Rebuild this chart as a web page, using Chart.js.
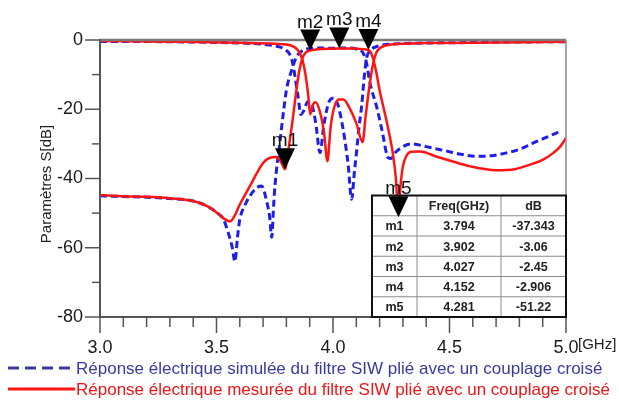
<!DOCTYPE html>
<html>
<head>
<meta charset="utf-8">
<script src="https://cdn.jsdelivr.net/npm/chart.js@4.4.0/dist/chart.umd.min.js"></script>
<style>
  html, body { margin: 0; padding: 0; background: #fff; }
  #wrap { width: 619px; height: 401px; position: relative; }
</style>
</head>
<body>
<div id="wrap"><canvas id="chart"></canvas></div>
<script>
// simulated response (blue dashed)
const simS21Freq = [3.0,3.1,3.2,3.3,3.4,3.46,3.5,3.53,3.55,3.568,3.579,3.59,3.6,3.62,3.644,3.67,3.694,3.715,3.728,3.737,3.745,3.751,3.773,3.787,3.8,3.823,3.844,3.873,3.9,3.95,4.0,4.05,4.1,4.13,4.144,4.159,4.187,4.21,4.237,4.25,4.266,4.3,4.338,4.4,4.488,4.55,4.616,4.68,4.745,4.8,4.86,4.92,4.974];
const simS21Db = [-45.0,-45.2,-45.4,-45.8,-46.5,-48,-49.8,-51.8,-55.6,-60,-64,-57,-51.8,-48,-45,-42.8,-42.2,-46.5,-51,-57,-48,-42,-29,-21,-14.5,-8.6,-4.8,-2.9,-2.5,-2.3,-2.4,-2.3,-2.6,-3.8,-6.7,-12.5,-19.2,-26,-34,-34.2,-32.6,-30.8,-30,-30.8,-32.1,-33,-33.6,-33.4,-32.6,-31.6,-29.7,-28,-26.4];
const simS11Freq = [3.0,3.3,3.5,3.65,3.72,3.77,3.795,3.815,3.828,3.838,3.85,3.862,3.874,3.892,3.908,3.926,3.944,3.962,3.982,4.0,4.02,4.044,4.065,4.08,4.092,4.1,4.112,4.123,4.135,4.145,4.16,4.187,4.25,4.5,4.75,5.0];
const simS11Db = [-0.4,-0.5,-0.7,-1.0,-1.4,-2.0,-2.8,-4.2,-7,-11,-16.3,-21.5,-20.5,-17.8,-18.5,-24,-32.5,-24,-18,-16.8,-18.5,-26,-36,-46,-38,-33,-25,-19,-10,-5,-3,-1.9,-1.2,-0.8,-0.6,-0.5];

// measured response (red solid)
const measS21Freq = [3.0,3.1,3.2,3.3,3.4,3.46,3.5,3.53,3.558,3.58,3.6,3.645,3.7,3.73,3.755,3.775,3.794,3.81,3.825,3.84,3.855,3.87,3.885,3.902,3.95,4.027,4.1,4.152,4.168,4.185,4.2,4.215,4.235,4.255,4.27,4.281,4.29,4.3,4.315,4.335,4.373,4.45,4.5,4.59,4.7,4.78,4.845,4.9,4.946,4.975,5.0];
const measS21Db = [-44.8,-45.1,-45.3,-45.7,-46.5,-48,-49.8,-51.5,-52.4,-50.5,-47.5,-42,-35.5,-34,-33.8,-35,-37.3,-31,-24,-16,-9,-5,-3.5,-3.06,-2.6,-2.45,-2.5,-2.9,-4.5,-9,-14.5,-19,-25,-32,-40,-51.2,-42,-36.5,-33.5,-32.3,-32.2,-33.8,-34.8,-36.5,-37.6,-37.3,-36,-34.6,-32.6,-30.8,-28.3];
const measS11Freq = [3.0,3.3,3.6,3.75,3.82,3.84,3.855,3.87,3.882,3.893,3.902,3.912,3.925,3.945,3.962,3.976,3.99,4.005,4.025,4.045,4.07,4.1,4.127,4.14,4.155,4.17,4.185,4.2,4.25,4.4,4.7,5.0];
const measS11Db = [-0.3,-0.5,-0.8,-1.1,-1.6,-2.3,-3.5,-6,-10,-15.5,-21.5,-19,-18,-21,-27,-35,-25,-19.5,-17.2,-17.2,-19.5,-24,-29.5,-22,-14,-7.5,-3.8,-2.4,-1.3,-0.9,-0.7,-0.5];

// markers
const markerNames = ['m1', 'm2', 'm3', 'm4', 'm5'];
const markerFreq = [3.794, 3.902, 4.027, 4.152, 4.281];
const markerDb = [-37.343, -3.06, -2.45, -2.906, -51.22];

const legendLabels = [
  'Réponse électrique simulée du filtre SIW plié avec un couplage croisé',
  'Réponse électrique mesurée du filtre SIW plié avec un couplage croisé'
];

const FONT = '"Liberation Sans", Arial, sans-serif';
const BLUE = '#1e1ee6';
const RED = '#ff1414';

const pts = (fs, ds) => fs.map((f, i) => ({ x: f, y: ds[i] }));

function line(ctx, x1, y1, x2, y2) {
  ctx.beginPath();
  ctx.moveTo(x1, y1);
  ctx.lineTo(x2, y2);
  ctx.stroke();
}

const isMult = (v, m) => Math.abs(v / m - Math.round(v / m)) < 1e-6;

const overlay = {
  id: 'overlay',
  afterDatasetsDraw(chart) {
    const { ctx, chartArea: a, scales: { x, y } } = chart;
    ctx.save();

    // frame
    ctx.strokeStyle = '#7a7a7a';
    ctx.lineWidth = 2.5;
    line(ctx, a.left, a.top, a.right, a.top);
    ctx.strokeStyle = '#8a8a8a';
    ctx.lineWidth = 1.5;
    line(ctx, a.right, a.top, a.right, a.bottom);
    ctx.strokeStyle = '#555';
    ctx.lineWidth = 2;
    line(ctx, a.left, a.top - 1, a.left, a.bottom + 1);
    line(ctx, a.left - 1, a.bottom, a.right, a.bottom);

    // ticks
    ctx.lineWidth = 1.5;
    y.ticks.forEach(t => {
      const py = y.getPixelForValue(t.value);
      const len = isMult(t.value, 20) ? 15 : 8;
      line(ctx, a.left - len, py, a.left, py);
    });
    x.ticks.forEach(t => {
      const px = x.getPixelForValue(t.value);
      const len = isMult(t.value, 0.5) ? 16 : 10;
      line(ctx, px, a.bottom, px, a.bottom + len);
    });

    // marker table
    const cols = [a.right - 194, a.right - 149, a.right - 65, a.right];
    const tTop = a.bottom - 121.5;
    const rowH = 121.5 / 6;
    ctx.fillStyle = '#fff';
    ctx.fillRect(cols[0], tTop, cols[3] - cols[0], a.bottom - tTop);
    ctx.strokeStyle = '#8c8c8c';
    ctx.lineWidth = 1;
    for (let r = 1; r < 6; r++) line(ctx, cols[0], tTop + r * rowH, cols[3], tTop + r * rowH);
    line(ctx, cols[1], tTop, cols[1], a.bottom);
    line(ctx, cols[2], tTop, cols[2], a.bottom);
    ctx.strokeStyle = '#111';
    ctx.lineWidth = 2;
    ctx.strokeRect(cols[0], tTop, cols[3] - cols[0], a.bottom - tTop);

    ctx.fillStyle = '#222';
    ctx.font = 'bold 12.5px ' + FONT;
    ctx.textAlign = 'center';
    ctx.textBaseline = 'middle';
    const cx = i => (cols[i] + cols[i + 1]) / 2;
    ctx.fillText('Freq(GHz)', cx(1), tTop + rowH / 2 + 1);
    ctx.fillText('dB', cx(2), tTop + rowH / 2 + 1);
    markerNames.forEach((m, i) => {
      const ry = tTop + (i + 1.5) * rowH + 1;
      ctx.fillText(m, cx(0), ry);
      ctx.fillText(String(markerFreq[i]), cx(1), ry);
      ctx.fillText(String(markerDb[i]), cx(2), ry);
    });

    // markers
    ctx.fillStyle = '#000';
    ctx.font = '19px ' + FONT;
    ctx.textBaseline = 'alphabetic';
    markerNames.forEach((m, i) => {
      const px = x.getPixelForValue(markerFreq[i]);
      const py = y.getPixelForValue(markerDb[i]);
      ctx.beginPath();
      ctx.moveTo(px, py);
      ctx.lineTo(px - 10, py - 21);
      ctx.lineTo(px + 10, py - 21);
      ctx.closePath();
      ctx.fill();
      ctx.fillStyle = '#111';
      ctx.fillText(m, px, py - 23);
      ctx.fillStyle = '#000';
    });

    // axis texts
    ctx.fillStyle = '#222';
    ctx.font = '15px ' + FONT;
    ctx.textAlign = 'left';
    ctx.textBaseline = 'middle';
    ctx.fillText('[GHz]', a.right + 12, 345);
    ctx.save();
    ctx.translate(47, 184);
    ctx.rotate(-Math.PI / 2);
    ctx.textAlign = 'center';
    ctx.fillText('Paramètres S[dB]', 0, 0);
    ctx.restore();

    // legend
    const rows = [
      { y: 368, color: '#3a3a9e', lineColor: '#3a3a9e', dash: [11, 6] },
      { y: 389, color: '#f01414', lineColor: RED, dash: [] }
    ];
    ctx.font = '17px ' + FONT;
    rows.forEach((r, i) => {
      ctx.strokeStyle = r.lineColor;
      ctx.lineWidth = 3;
      ctx.setLineDash(r.dash);
      line(ctx, 8, r.y, 75, r.y);
      ctx.setLineDash([]);
      ctx.fillStyle = r.color;
      ctx.fillText(legendLabels[i], 76, r.y + 1);
    });

    ctx.restore();
  }
};

new Chart(document.getElementById('chart'), {
  type: 'line',
  data: {
    datasets: [
      { label: 'mesure S21', data: pts(measS21Freq, measS21Db), borderColor: RED, borderWidth: 2.5 },
      { label: 'mesure S11', data: pts(measS11Freq, measS11Db), borderColor: RED, borderWidth: 2.5 },
      { label: 'simulation S21', data: pts(simS21Freq, simS21Db), borderColor: BLUE, borderWidth: 3, borderDash: [7, 4] },
      { label: 'simulation S11', data: pts(simS11Freq, simS11Db), borderColor: BLUE, borderWidth: 3, borderDash: [7, 4] }
    ]
  },
  options: {
    responsive: true,
    maintainAspectRatio: false,
    animation: false,
    layout: { padding: { left: 0, top: 40, right: 53, bottom: 0 } },
    elements: {
      point: { radius: 0 },
      line: { cubicInterpolationMode: 'monotone', fill: false }
    },
    plugins: {
      legend: { display: false },
      tooltip: { enabled: false }
    },
    scales: {
      x: {
        type: 'linear',
        min: 3,
        max: 5,
        afterFit: s => { s.height = 84; },
        grid: { display: false, drawTicks: false },
        border: { display: false },
        ticks: {
          stepSize: 0.1,
          autoSkip: false,
          maxRotation: 0,
          padding: 20,
          color: '#1a1a1a',
          font: { family: FONT, size: 18 },
          callback: v => isMult(v, 0.5) ? Number(v).toFixed(1) : ''
        }
      },
      y: {
        min: -80,
        max: 0,
        afterFit: s => { s.width = 100; },
        grid: { display: false, drawTicks: false },
        border: { display: false },
        ticks: {
          stepSize: 10,
          padding: 17,
          color: '#1a1a1a',
          font: { family: FONT, size: 18 },
          callback: v => isMult(v, 20) ? String(v) : ''
        }
      }
    }
  },
  plugins: [overlay]
});
</script>
</body>
</html>
